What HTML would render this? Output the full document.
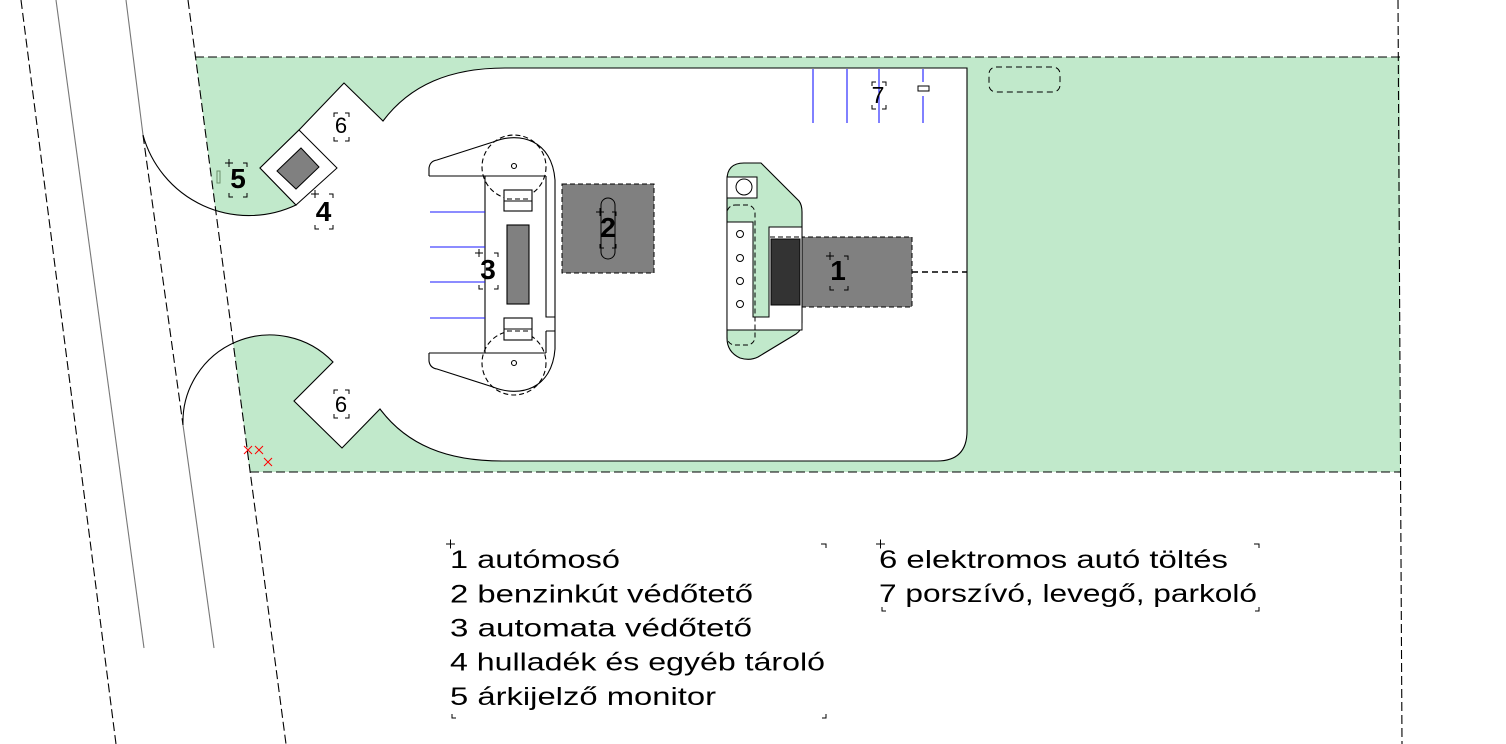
<!DOCTYPE html>
<html><head><meta charset="utf-8">
<style>html,body{margin:0;padding:0;background:#fff;}svg{display:block;}</style>
</head><body>
<svg width="1506" height="744" viewBox="0 0 1506 744" xmlns="http://www.w3.org/2000/svg">
<rect width="1506" height="744" fill="#fff"/>
<!-- green area -->
<polygon points="195.5,57 1400,57 1400,472 250,472" fill="#c1e9cb"/>
<!-- driveway fill -->
<path d="M143,135 A110,110 0 0 0 296,205 L260,168 L299,130 L344,83 L383,121 C410,85 450,68 505,68 L967,68 L967,431 Q967,461 937,461 L502,461 C447,461 407,445 380,409 L342,448 L294,401 L333,362 A87,87 0 0 0 183,425 Z" fill="#fff"/>
<!-- road lines -->
<g fill="none" stroke-width="1.1">
<line x1="21" y1="0" x2="116" y2="744" stroke="#000" stroke-dasharray="9,4"/>
<line x1="56" y1="0" x2="144" y2="648" stroke="#777"/>
<line x1="126" y1="0" x2="143" y2="135" stroke="#777"/>
<line x1="143" y1="135" x2="183" y2="425" stroke="#000" stroke-dasharray="9,4"/>
<line x1="183" y1="425" x2="214" y2="648" stroke="#777"/>
<line x1="188" y1="0" x2="286" y2="744" stroke="#000" stroke-dasharray="9,4"/>
<line x1="1398" y1="0" x2="1402" y2="744" stroke="#000" stroke-dasharray="9,4"/>
<line x1="195" y1="57" x2="1400" y2="57" stroke="#000" stroke-dasharray="9,4"/>
<line x1="250" y1="472" x2="1400" y2="472" stroke="#000" stroke-dasharray="9,4"/>
</g>
<!-- driveway outline -->
<path d="M143,135 A110,110 0 0 0 296,205 L260,168 L299,130 L344,83 L383,121 C410,85 450,68 505,68 L967,68 L967,431 Q967,461 937,461 L502,461 C447,461 407,445 380,409 L342,448 L294,401 L333,362 A87,87 0 0 0 183,425" fill="none" stroke="#000" stroke-width="1.1"/>
<!-- kiosk -->
<polygon points="260,168 299,130 337,168 296,205" fill="#fff" stroke="#000" stroke-width="1"/>
<polygon points="277,171 301,148 319,167 296,189" fill="#808080" stroke="#000" stroke-width="1"/>
<rect x="217" y="171" width="3" height="12" fill="none" stroke="#6b8f6b" stroke-width="1"/>

<!-- building 3 -->
<g fill="none" stroke="#000" stroke-width="1.1">
<path d="M429,176 L429,168 Q430,161 437,160 L493,142 C520,131 552,140 555,180 L555,349 C552,389 520,398 493,387 L437,369 Q430,368 429,361 L429,353" fill="#fff"/>
<path d="M429,176 H546 M429,353 H546 M485,176 V353 M546,176 V317 H555 M546,331 H555 M546,331 V353"/>
<circle cx="514" cy="167" r="32" stroke-dasharray="5,3"/>
<circle cx="514" cy="363" r="32" stroke-dasharray="5,3"/>
<circle cx="514" cy="166" r="2.5"/>
<circle cx="514" cy="363" r="2.5"/>
<rect x="504" y="190" width="28" height="21" fill="#fff"/>
<line x1="504" y1="201" x2="532" y2="201"/>
<line x1="507" y1="199" x2="530" y2="199" stroke-dasharray="5,3"/>
<rect x="504" y="318" width="28" height="22" fill="#fff"/>
<line x1="504" y1="329" x2="532" y2="329"/>
<line x1="507" y1="331" x2="530" y2="331" stroke-dasharray="5,3"/>
<rect x="507" y="225" width="22" height="79" fill="#808080"/>
</g>
<g stroke="#1a1aff" stroke-width="1.1">
<line x1="430" y1="212" x2="485" y2="212"/>
<line x1="430" y1="247" x2="485" y2="247"/>
<line x1="430" y1="282" x2="485" y2="282"/>
<line x1="430" y1="318" x2="485" y2="318"/>
</g>

<!-- building 2 -->
<rect x="562" y="184" width="92" height="89" fill="#808080" stroke="#000" stroke-width="1" stroke-dasharray="5,3"/>
<rect x="601" y="198" width="14" height="61" rx="7" fill="none" stroke="#000" stroke-width="1"/>

<!-- building 1 -->
<rect x="800" y="237" width="112" height="70" fill="#808080" stroke="#000" stroke-width="1" stroke-dasharray="5,3"/>
<line x1="912" y1="272" x2="967" y2="272" stroke="#000" stroke-width="1.6" stroke-dasharray="6,4"/>
<path d="M727,338 L727,180 Q727,163 744,163 L761,163 L799,201 Q802,205 802,212 L802,323 Q802,330 796,334 L758,357 Q750,361 740,358 Q727,352 727,338 Z" fill="#c1e9cb" stroke="#000" stroke-width="1.1"/>
<rect x="727" y="177" width="30" height="21" fill="#fff" stroke="#000" stroke-width="1"/>
<circle cx="744" cy="187" r="8" fill="none" stroke="#000" stroke-width="1"/>
<polygon points="727,222 753,222 753,317 769,317 769,227 802,227 802,330 727,330" fill="#fff" stroke="#000" stroke-width="1"/>
<g fill="none" stroke="#000" stroke-width="1">
<circle cx="740" cy="234" r="3.5"/>
<circle cx="740" cy="258" r="3.5"/>
<circle cx="740" cy="281" r="3.5"/>
<circle cx="740" cy="304" r="3.5"/>
<rect x="727" y="205" width="28" height="140" rx="8" stroke-dasharray="5,3"/>
<line x1="770" y1="237" x2="802" y2="237" stroke-dasharray="5,3"/>
</g>
<rect x="771" y="239" width="29" height="66" fill="#333" stroke="#000" stroke-width="1"/>

<!-- top right parking -->
<g stroke="#1a1aff" stroke-width="1.1">
<line x1="813" y1="69" x2="813" y2="123"/>
<line x1="847" y1="69" x2="847" y2="123"/>
<line x1="879" y1="69" x2="879" y2="123"/>
<line x1="923" y1="69" x2="923" y2="82"/>
<line x1="923" y1="96" x2="923" y2="123"/>
</g>
<rect x="918" y="86" width="11" height="5" fill="#fff" stroke="#000" stroke-width="1"/>
<rect x="989" y="67" width="71" height="25" rx="7" fill="none" stroke="#000" stroke-width="1" stroke-dasharray="6,4"/>

<!-- red marks -->
<g stroke="#ff0000" stroke-width="1">
<path d="M244,446 L252,454 M252,446 L244,454"/>
<path d="M255,446 L263,454 M263,446 L255,454"/>
<path d="M264,458 L272,466 M272,458 L264,466"/>
</g>

<!-- map labels -->
<g font-family="'Liberation Sans', sans-serif" fill="#000" text-anchor="middle">
<text x="238" y="188" font-size="28" font-weight="bold">5</text>
<text x="323.5" y="221" font-size="28" font-weight="bold">4</text>
<text x="341" y="133" font-size="22">6</text>
<text x="341" y="412" font-size="22">6</text>
<text x="488" y="279" font-size="28" font-weight="bold">3</text>
<text x="608" y="237" font-size="28" font-weight="bold">2</text>
<text x="838" y="280" font-size="28" font-weight="bold">1</text>
<text x="878" y="103" font-size="23">7</text>
</g>
<!-- label bracket marks -->
<g fill="none" stroke="#000" stroke-width="1">
<path d="M229,167 V163 H233 M243,163 H247 V167 M229,193 V197 H233 M243,197 H247 V193 M225,163 H233 M229,159 V167"/>
<path d="M315,198 V194 H319 M329,194 H333 V198 M315,225 V229 H319 M329,229 H333 V225 M311,194 H319 M315,190 V198"/>
<path d="M334,117 V113 H338 M345,113 H349 V117 M334,137 V141 H338 M345,141 H349 V137"/>
<path d="M334,394 V390 H338 M345,390 H349 V394 M334,414 V418 H338 M345,418 H349 V414"/>
<path d="M479,257 V253 H483 M494,253 H498 V257 M479,285 V289 H483 M494,289 H498 V285 M475,253 H483 M479,249 V257"/>
<path d="M600,216 V212 H604 M612,212 H616 V216 M600,244 V248 H604 M612,248 H616 V244 M596,212 H604 M600,208 V216"/>
<path d="M830,260 V256 H834 M844,256 H848 V260 M830,286 V290 H834 M844,290 H848 V286 M826,256 H834 M830,252 V260"/>
<path d="M872,86 V82 H876 M882,82 H886 V86 M872,105 V109 H876 M882,109 H886 V105"/>
<!-- legend marks -->
<path d="M446,544 H455 M450.5,539.5 V548.5 M821,544 H826 V548 M452,714 V718 H456 M822,718 H826 V714"/>
<path d="M876,544 H885 M880.5,539.5 V548.5 M1254,544 H1259 V548 M882,607 V611 H886 M1255,611 H1259 V607"/>
</g>

<!-- legend text -->
<g font-family="'Liberation Sans', sans-serif" font-size="25" fill="#000">
<text x="450" y="568" textLength="170" lengthAdjust="spacingAndGlyphs">1 autómosó</text>
<text x="450" y="602.5" textLength="303" lengthAdjust="spacingAndGlyphs">2 benzinkút védőtető</text>
<text x="450" y="636.5" textLength="302" lengthAdjust="spacingAndGlyphs">3 automata védőtető</text>
<text x="450" y="670.5" textLength="375" lengthAdjust="spacingAndGlyphs">4 hulladék és egyéb tároló</text>
<text x="450" y="705" textLength="266" lengthAdjust="spacingAndGlyphs">5 árkijelző monitor</text>
<text x="879" y="568" textLength="349" lengthAdjust="spacingAndGlyphs">6 elektromos autó töltés</text>
<text x="879" y="602" textLength="378" lengthAdjust="spacingAndGlyphs">7 porszívó, levegő, parkoló</text>
</g>
</svg>
</body></html>
